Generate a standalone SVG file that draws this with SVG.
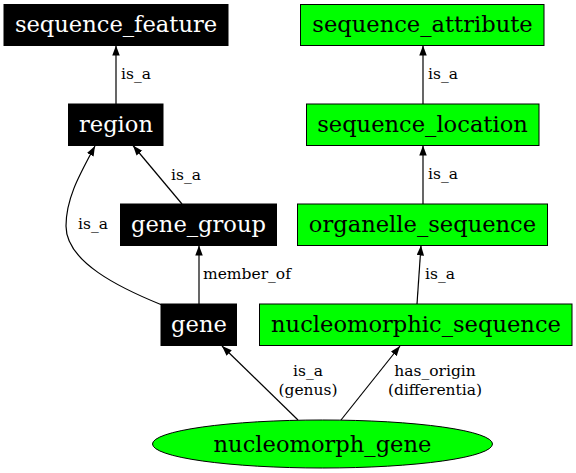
<svg xmlns="http://www.w3.org/2000/svg" width="576" height="473" viewBox="0 0 576 473">
<style>
.nb rect{fill:#000;stroke:#000;stroke-width:1}
.ng rect,.ng ellipse{fill:#00ff00;stroke:#000;stroke-width:1}
.nb text{fill:#fff}
.ng text{fill:#000}
text{font-family:"DejaVu Serif","Liberation Serif",serif}
.node text{font-size:22.6px;text-anchor:middle}
.lbl{font-size:15.5px;fill:#000}
.mid{text-anchor:middle}
#edges path{fill:none;stroke:#000;stroke-width:1.2;marker-end:url(#arr)}
</style>
<defs>
<marker id="arr" markerUnits="userSpaceOnUse" markerWidth="11" markerHeight="8" refX="10" refY="3.75" orient="auto">
<path d="M0,0 L10,3.75 L0,7.5 z" fill="#000"/>
</marker>
</defs>
<rect width="576" height="473" fill="#fff"/>
<g id="edges">
<path d="M116,104 L116,45.5"/>
<path d="M182,204 L133,145.5"/>
<path d="M162,305 C120,288 66,262 66,226 C66,198 80,174 95,146"/>
<path d="M199,304 L199,245.5"/>
<path d="M423,104 L423,45.5"/>
<path d="M423,204 L423,145.5"/>
<path d="M417,304 L421,245.5"/>
<path d="M298,420 L222,346"/>
<path d="M341,420 L400,346"/>
<text class="lbl" x="121" y="79">is_a</text>
<text class="lbl" x="171" y="180">is_a</text>
<text class="lbl" x="78" y="229">is_a</text>
<text class="lbl" x="203" y="279">member_of</text>
<text class="lbl" x="428" y="79">is_a</text>
<text class="lbl" x="428" y="179">is_a</text>
<text class="lbl" x="425" y="279">is_a</text>
<text class="lbl mid" x="308" y="376">is_a</text>
<text class="lbl mid" x="308" y="395">(genus)</text>
<text class="lbl mid" x="435" y="376">has_origin</text>
<text class="lbl mid" x="435" y="395">(differentia)</text>
</g>
<g id="sequence_feature" class="node nb"><rect x="4" y="4.5" width="224" height="41"/><text x="116" y="32">sequence_feature</text></g>
<g id="region" class="node nb"><rect x="68.5" y="104" width="94.5" height="41.5"/><text x="116" y="132">region</text></g>
<g id="gene_group" class="node nb"><rect x="120.5" y="204" width="156" height="41.5"/><text x="198.5" y="232">gene_group</text></g>
<g id="gene" class="node nb"><rect x="161" y="304" width="75.5" height="41.5"/><text x="199" y="332">gene</text></g>
<g id="sequence_attribute" class="node ng"><rect x="300.5" y="4.5" width="243.5" height="41"/><text x="422.5" y="32">sequence_attribute</text></g>
<g id="sequence_location" class="node ng"><rect x="306.5" y="104" width="232.5" height="41.5"/><text x="422.5" y="132">sequence_location</text></g>
<g id="organelle_sequence" class="node ng"><rect x="297.5" y="204" width="250" height="41.5"/><text x="422.5" y="232">organelle_sequence</text></g>
<g id="nucleomorphic_sequence" class="node ng"><rect x="259.5" y="304" width="312.5" height="41.5"/><text x="416" y="332">nucleomorphic_sequence</text></g>
<g id="nucleomorph_gene" class="node ng"><ellipse cx="322.5" cy="444" rx="170" ry="24"/><text x="322.5" y="452">nucleomorph_gene</text></g>
</svg>
